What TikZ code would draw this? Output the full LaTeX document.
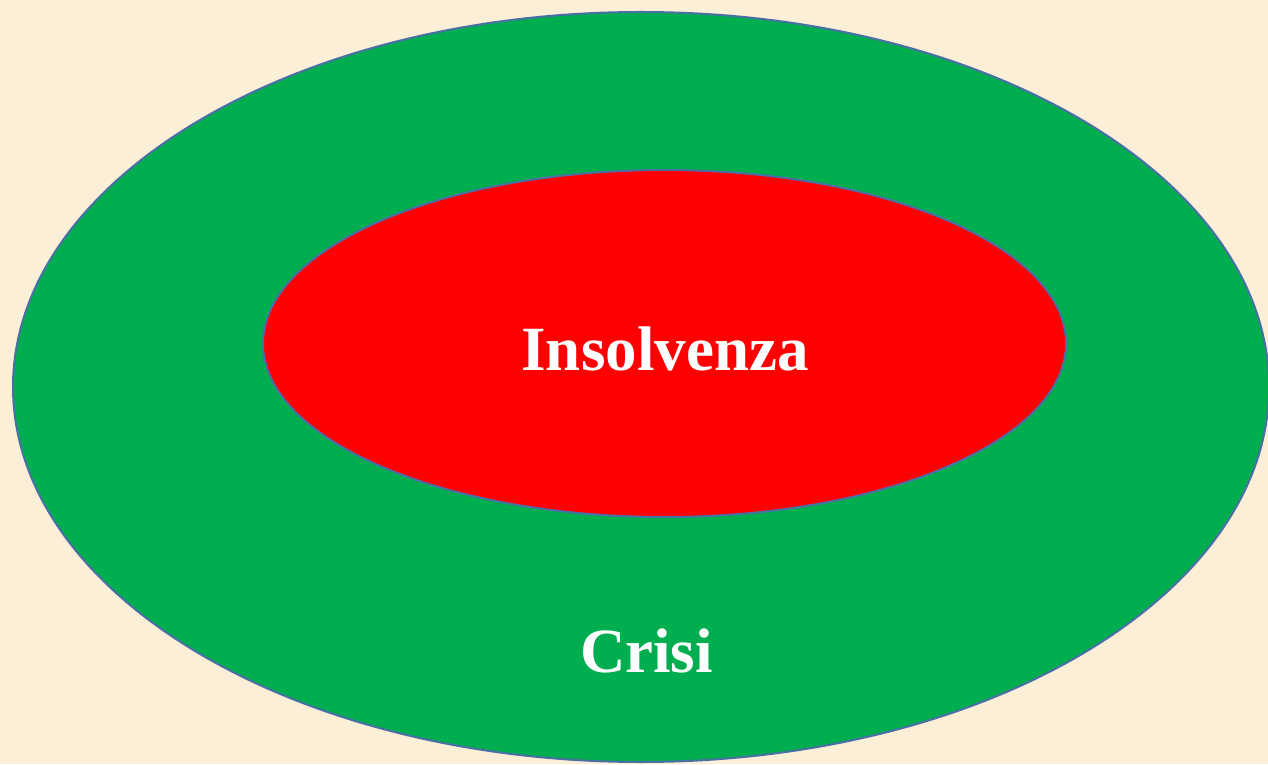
\documentclass[tikz,border=0pt]{standalone}
\usepackage{fontspec}
\setmainfont{Liberation Serif}
\usetikzlibrary{shapes.geometric}
\definecolor{bgcol}{HTML}{FBEFD8}
\definecolor{outlinecol}{HTML}{4A6FA5}
\definecolor{greencol}{HTML}{00AE50}
\definecolor{redcol}{HTML}{FF0000}
\tikzset{
  ring/.style={ellipse, draw=outlinecol, line width=2pt, inner sep=0pt},
  label/.style={text=white, font=\bfseries\fontsize{63}{68}\selectfont, anchor=base, inner sep=0pt},
}
\begin{document}
\begin{tikzpicture}[x=1pt,y=1pt]
\fill[bgcol] (0,0) rectangle (1268,764);
\useasboundingbox (0,0) rectangle (1268,764);
\node[ring, fill=greencol, minimum width=1256pt, minimum height=750pt] (crisis) at (641,377) {};
\node[ring, fill=redcol, minimum width=803pt, minimum height=347pt] (insolv) at (664.5,420.5) {};
\node[label] (tinsolv) at (665,393) {Insolvenza};
\node[label] (tcrisi) at (646.5,92) {Crisi};
\end{tikzpicture}
\end{document}
